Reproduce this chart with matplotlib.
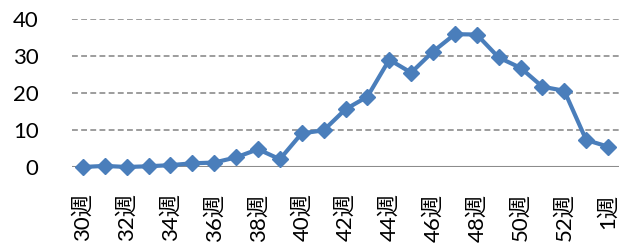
import matplotlib.pyplot as plt

plt.rcParams['font.family'] = ['Lato', 'Noto Sans CJK JP', 'DejaVu Sans']

weeks = [30, 31, 32, 33, 34, 35, 36, 37, 38, 39, 40, 41, 42, 43, 44, 45, 46,
         47, 48, 49, 50, 51, 52, 53, 1]
values = [0.0, 0.3, 0.0, 0.2, 0.5, 1.0, 1.2, 2.6, 4.8, 2.1, 9.1, 9.9, 15.6,
          19.0, 29.0, 25.5, 31.2, 35.9, 35.8, 29.6, 26.8, 21.7, 20.6, 7.3, 5.5]
labels = [f"{w}週" for w in weeks]
yticks = [0, 10, 20, 30, 40]

fig = plt.figure(figsize=(6.19, 2.46), dpi=100)
ax = fig.add_axes([72 / 619, 1 - 167 / 246, 1 - 72 / 619, (167 - 19) / 246])

x = list(range(len(values)))
ax.plot(x, values, color='#4a7ebb', lw=3, marker='D', ms=8.5, zorder=3,
        clip_on=False)

ax.set_xlim(-0.5, len(values) - 0.5)
ax.set_ylim(0, 40)
ax.set_yticks(yticks)
for t in yticks[1:]:
    ax.axhline(t, color='#8c8c8c', lw=1.2, ls=(0, (3.5, 2)), zorder=1)
ax.axhline(0, color='#8c8c8c', lw=1.5, zorder=2)

ax.set_xticks(x[::2])
ax.set_xticklabels(labels[::2], rotation=90, va='top', ha='center')
for s in ax.spines.values():
    s.set_visible(False)
ax.tick_params(axis='both', length=0, labelsize=16, colors='black')
ax.tick_params(axis='x', pad=19)
ax.tick_params(axis='y', pad=24)

fig.savefig('out.png', dpi=100)
